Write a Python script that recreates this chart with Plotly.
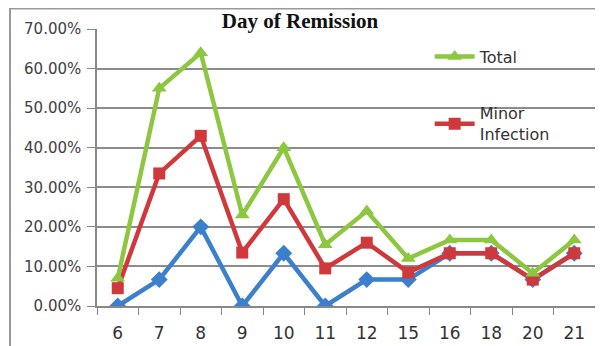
import plotly.graph_objects as go

days = ["6", "7", "8", "9", "10", "11", "12", "15", "16", "18", "20", "21"]
major = [0, 6.67, 20, 0, 13.33, 0, 6.67, 6.67, 13.33, 13.33, 6.67, 13.33]
minor = [4.5, 33.5, 43, 13.5, 27, 9.5, 16, 8.5, 13.33, 13.33, 6.67, 13.33]
total = [7, 55, 64, 23, 40, 15.5, 24, 12, 16.7, 16.7, 8.3, 16.7]
y_ticks = [0, 10, 20, 30, 40, 50, 60, 70]
y_labels = ["0.00%", "10.00%", "20.00%", "30.00%", "40.00%", "50.00%", "60.00%", "70.00%"]

BLUE = "#3C7FCC"
RED = "#D0393B"
GREEN = "#8DC63F"

# page body has an 8px default margin, so the figure is drawn 8px smaller
W, H = 595, 338
L, R, T, B = 89, 8, 21, 40
PW, PH = W - L - R, H - T - B

fig = go.Figure()
fig.add_trace(go.Scatter(x=days, y=major, mode="lines+markers", name="Major Infection",
                         line=dict(color=BLUE, width=4.5),
                         marker=dict(symbol="diamond", size=13, color=BLUE),
                         showlegend=False))
fig.add_trace(go.Scatter(x=days, y=minor, mode="lines+markers", name="Minor<br>Infection",
                         line=dict(color=RED, width=4.5),
                         marker=dict(symbol="square", size=12, color=RED),
                         legendgroup="b", legendrank=2))
fig.add_trace(go.Scatter(x=days, y=total, mode="lines+markers", name="Total",
                         line=dict(color=GREEN, width=4.5),
                         marker=dict(symbol="triangle-up", size=13, color=GREEN),
                         legendgroup="a", legendrank=1))

fig.update_layout(
    width=W, height=H,
    margin=dict(l=L, r=R, t=T, b=B, autoexpand=False),
    paper_bgcolor="white", plot_bgcolor="white",
    font=dict(family="DejaVu Sans, sans-serif", size=14, color="#404040"),
    title=dict(text="<b>Day of Remission</b>", x=292 / W, xref="container",
               y=1 - 13 / H, yref="container", yanchor="middle", xanchor="center",
               font=dict(family="Liberation Serif, Times New Roman, serif", size=21, color="#111111")),
    showlegend=True,
    legend=dict(x=0.668, y=0.962, xanchor="left", yanchor="top", bgcolor="rgba(0,0,0,0)",
                font=dict(size=16, color="#333333"), tracegroupgap=33, itemwidth=40),
    xaxis=dict(type="category", range=[-0.5, 11.5], tickson="boundaries", ticks="outside",
               ticklen=7, tickcolor="#888888", showline=True, linecolor="#888888",
               linewidth=1.5, showgrid=False, tickfont=dict(size=17, color="#333333"),
               ticklabelstandoff=11, automargin=False),
    yaxis=dict(range=[0, 70], tickvals=y_ticks, ticktext=y_labels, ticks="outside",
               ticklen=8, tickcolor="#888888", showline=True, linecolor="#888888",
               linewidth=1.5, showgrid=True, gridcolor="#8c8c8c", gridwidth=1.5,
               zeroline=False, tickfont=dict(size=15, color="#404040"), ticklabelstandoff=3,
               automargin=False),
    shapes=[dict(type="rect", xref="paper", yref="paper",
                 x0=(2 - L) / PW, x1=(589 - L) / PW,
                 y0=(T + PH - H - 2) / PH, y1=(T + PH - 0.5) / PH,
                 line=dict(color="#999999", width=2), layer="above")],
)

fig.write_html("out.html")
